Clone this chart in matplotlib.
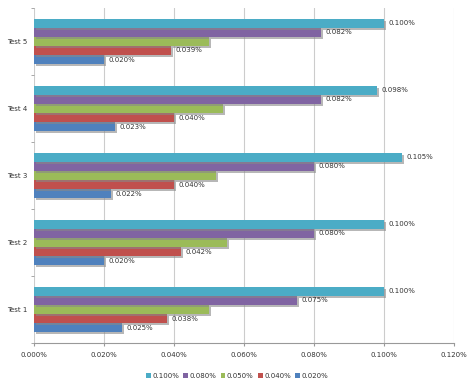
import matplotlib
matplotlib.use("Agg")
import matplotlib.pyplot as plt
import matplotlib.patheffects as pe
import numpy as np

tests = ["Test 1", "Test 2", "Test 3", "Test 4", "Test 5"]
series_names = ["0.020%", "0.040%", "0.050%", "0.080%", "0.100%"]
s020 = [0.025, 0.020, 0.022, 0.023, 0.020]
s040 = [0.038, 0.042, 0.040, 0.040, 0.039]
s050 = [0.050, 0.055, 0.052, 0.054, 0.050]
s080 = [0.075, 0.080, 0.080, 0.082, 0.082]
s100 = [0.100, 0.100, 0.105, 0.098, 0.100]
series = [s020, s040, s050, s080, s100]
show_labels = [True, True, False, True, True]
colors = ["#4F81BD", "#C0504D", "#9BBB59", "#8064A2", "#4BACC6"]
xticks = [0.000, 0.020, 0.040, 0.060, 0.080, 0.100, 0.120]

fig = plt.figure(figsize=(4.74, 3.87), dpi=100)
ax = fig.add_axes([0.0717, 0.1137, 0.8863, 0.866])

n = len(series)
bh = 0.136
y = np.arange(len(tests))
shadow = [pe.SimplePatchShadow(offset=(1.5, -1.5), shadow_rgbFace="#888888", alpha=0.6), pe.Normal()]
handles = []
for i, (vals, name, c, lab) in enumerate(zip(series, series_names, colors, show_labels)):
    pos = y - (n - 1) / 2 * bh + i * bh
    bars = ax.barh(pos, vals, height=bh, color=c, label=name, zorder=3)
    for b in bars:
        b.set_path_effects(shadow)
    handles.append(bars)
    if lab:
        for p, v in zip(pos, vals):
            ax.annotate(f"{v:.3f}%", (v, p), xytext=(3.5, 0), textcoords="offset points",
                        va="center", ha="left", fontsize=5, color="#333333", zorder=4)

ax.set_xlim(0, 0.12)
ax.set_ylim(-0.5, len(tests) - 0.5)
ax.set_xticks(xticks)
ax.set_xticklabels([f"{t:.3f}%" for t in xticks], fontsize=5, color="#333333")
ax.set_yticks(y)
ax.set_yticklabels(tests, fontsize=5, color="#333333")
ax.set_yticks(np.arange(len(tests) + 1) - 0.5, minor=True)
ax.tick_params(axis="y", which="major", length=0, pad=5)
ax.tick_params(axis="y", which="minor", length=2.5, color="#999999")
ax.tick_params(axis="x", length=2.5, color="#999999", pad=4)
ax.grid(axis="x", color="#CCCCCC", linewidth=0.8, zorder=0)
for s in ["top", "right", "left"]:
    ax.spines[s].set_visible(False)
ax.spines["bottom"].set_color("#999999")

leg = fig.legend(handles[::-1], series_names[::-1], loc="center", bbox_to_anchor=(0.5, 0.029),
                 ncol=5, frameon=False, fontsize=5, handlelength=0.7, handleheight=0.7,
                 handletextpad=0.2, columnspacing=0.6)
for t in leg.get_texts():
    t.set_color("#333333")
for h in leg.legend_handles:
    h.set_path_effects([])

fig.savefig("out.png", dpi=100)
